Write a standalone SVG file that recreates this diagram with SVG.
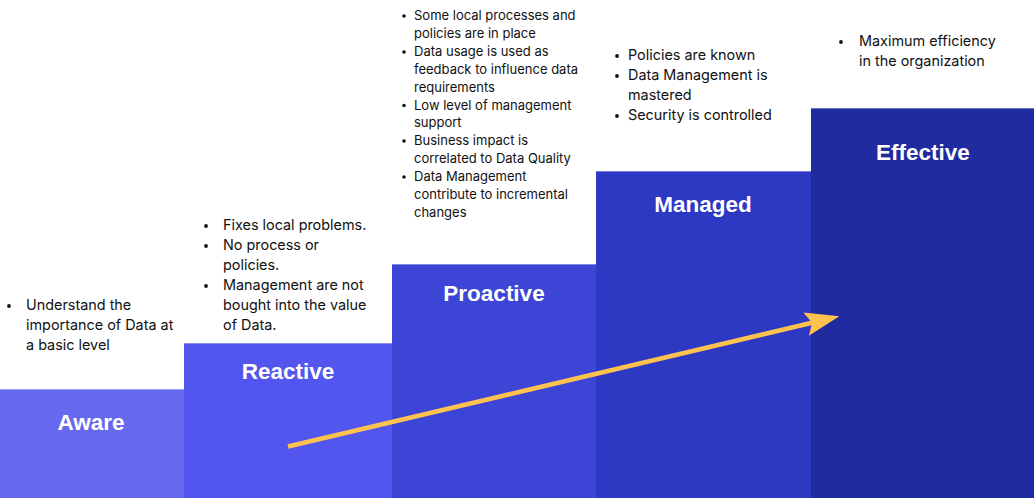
<svg xmlns="http://www.w3.org/2000/svg" width="1034" height="498" viewBox="0 0 1034 498">
<style>
.lbl{font-family:"Liberation Sans",Arial,sans-serif;font-weight:bold;font-size:22.5px;fill:#ffffff;text-anchor:middle}
.t{font-family:Inter,"Noto Sans",sans-serif;font-size:14.4px;fill:#111111}
.ts{font-family:Inter,"Noto Sans",sans-serif;font-size:13px;fill:#111111}
.dot{fill:#111111}
.edge{stroke:#ffffff;stroke-opacity:0.35;stroke-width:1}
</style>
<defs>
<marker id="ah" markerUnits="userSpaceOnUse" markerWidth="34" markerHeight="24" refX="6" refY="12" orient="auto">
<path d="M0,0 L34,12 L0,24 L6,12 Z" fill="#FFC24F"/>
</marker>
</defs>
<rect width="1034" height="498" fill="#ffffff"/>
<g id="aware">
<rect x="0" y="389" width="184.5" height="109" fill="#6668F0"/>
<line class="edge" x1="0" y1="389.5" x2="184" y2="389.5"/>
<text class="lbl" x="91" y="430">Aware</text>
<circle class="dot" cx="9" cy="306" r="1.9"/>
<text class="t" x="26" y="310">Understand the</text>
<text class="t" x="26" y="330">importance of Data at</text>
<text class="t" x="26" y="350">a basic level</text>
</g>
<g id="reactive">
<rect x="184" y="343" width="208.5" height="155" fill="#5256EE"/>
<line class="edge" x1="184" y1="343.5" x2="392" y2="343.5"/>
<text class="lbl" x="288" y="379">Reactive</text>
<circle class="dot" cx="206" cy="226" r="1.9"/>
<circle class="dot" cx="206" cy="246" r="1.9"/>
<circle class="dot" cx="206" cy="286" r="1.9"/>
<text class="t" x="223" y="230">Fixes local problems.</text>
<text class="t" x="223" y="250">No process or</text>
<text class="t" x="223" y="270">policies.</text>
<text class="t" x="223" y="290">Management are not</text>
<text class="t" x="223" y="310">bought into the value</text>
<text class="t" x="223" y="330">of Data.</text>
</g>
<g id="proactive">
<rect x="392" y="264" width="204.5" height="234" fill="#3D45D7"/>
<line class="edge" x1="392" y1="264.5" x2="596" y2="264.5"/>
<text class="lbl" x="494" y="301">Proactive</text>
<circle class="dot" cx="404" cy="16" r="1.8"/>
<circle class="dot" cx="404" cy="52" r="1.8"/>
<circle class="dot" cx="404" cy="105.5" r="1.8"/>
<circle class="dot" cx="404" cy="141" r="1.8"/>
<circle class="dot" cx="404" cy="177" r="1.8"/>
<text class="ts" x="414" y="20">Some local processes and</text>
<text class="ts" x="414" y="38">policies are in place</text>
<text class="ts" x="414" y="56">Data usage is used as</text>
<text class="ts" x="414" y="74">feedback to influence data</text>
<text class="ts" x="414" y="92">requirements</text>
<text class="ts" x="414" y="110">Low level of management</text>
<text class="ts" x="414" y="127">support</text>
<text class="ts" x="414" y="145">Business impact is</text>
<text class="ts" x="414" y="163">correlated to Data Quality</text>
<text class="ts" x="414" y="181">Data Management</text>
<text class="ts" x="414" y="199">contribute to incremental</text>
<text class="ts" x="414" y="217">changes</text>
</g>
<g id="managed">
<rect x="596" y="171" width="215.5" height="327" fill="#2D38C3"/>
<line class="edge" x1="596" y1="171.5" x2="811" y2="171.5"/>
<text class="lbl" x="703" y="212">Managed</text>
<circle class="dot" cx="617" cy="56" r="1.9"/>
<circle class="dot" cx="617" cy="76" r="1.9"/>
<circle class="dot" cx="617" cy="116" r="1.9"/>
<text class="t" x="628" y="60">Policies are known</text>
<text class="t" x="628" y="80">Data Management is</text>
<text class="t" x="628" y="100">mastered</text>
<text class="t" x="628" y="120">Security is controlled</text>
</g>
<g id="effective">
<rect x="811" y="108" width="223" height="390" fill="#1F2B9E"/>
<line class="edge" x1="811" y1="108.5" x2="1034" y2="108.5"/>
<text class="lbl" x="923" y="160">Effective</text>
<circle class="dot" cx="841" cy="42" r="1.9"/>
<text class="t" x="859" y="46">Maximum efficiency</text>
<text class="t" x="859" y="66">in the organization</text>
</g>
<g id="connectors">
<line x1="288" y1="446.5" x2="812" y2="322.8" stroke="#FFC24F" stroke-width="4.5" marker-end="url(#ah)"/>
</g>
</svg>
